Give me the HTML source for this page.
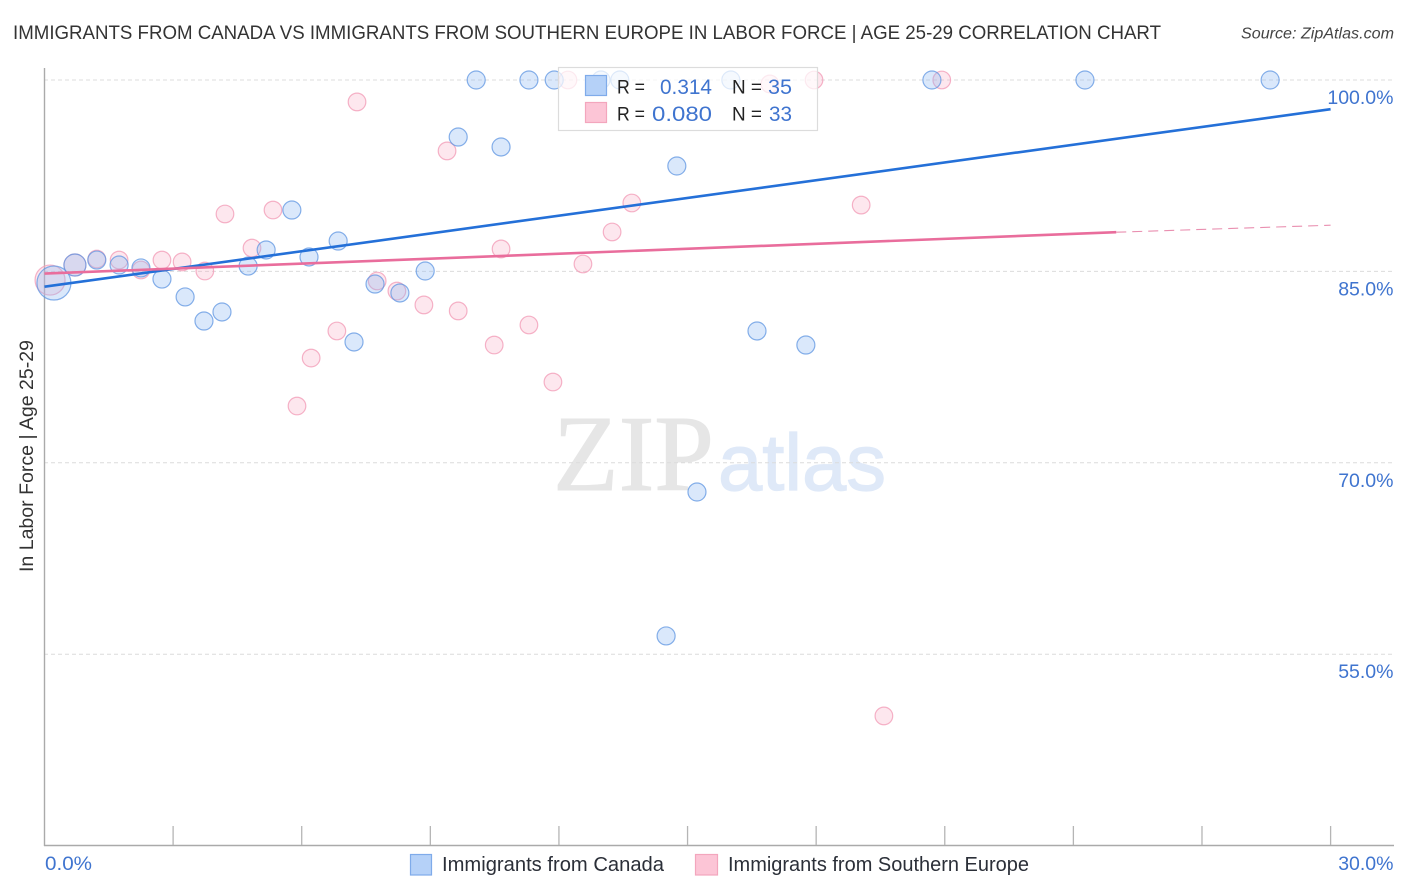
<!DOCTYPE html>
<html lang="en">
<head>
<meta charset="utf-8">
<title>Immigrants from Canada vs Immigrants from Southern Europe in Labor Force | Age 25-29</title>
<style>
html,body{margin:0;padding:0;background:#fff;}
svg{display:block;font-family:"Liberation Sans",sans-serif;}
</style>
</head>
<body>
<svg id="chart" width="1406" height="892" viewBox="0 0 1406 892" xmlns="http://www.w3.org/2000/svg">
  <rect x="0" y="0" width="1406" height="892" fill="#ffffff"/>
  <text x="13" y="39" font-size="19.5" fill="#333" textLength="1148" lengthAdjust="spacingAndGlyphs">IMMIGRANTS FROM CANADA VS IMMIGRANTS FROM SOUTHERN EUROPE IN LABOR FORCE | AGE 25-29 CORRELATION CHART</text>
  <text x="1241" y="38.5" font-size="15.5" font-style="italic" fill="#444" textLength="153" lengthAdjust="spacingAndGlyphs">Source: ZipAtlas.com</text>

  <g>
    <text x="553" y="490" font-family="'Liberation Serif',serif" font-size="108" fill="#e6e6e6" stroke="#e6e6e6" stroke-width="1" textLength="161" lengthAdjust="spacingAndGlyphs">ZIP</text>
    <text x="718" y="490" font-size="80" fill="#dfe9f8" stroke="#dfe9f8" stroke-width="1.2" textLength="168" lengthAdjust="spacingAndGlyphs">atlas</text>
  </g>

  <g id="grid"></g>
  <g id="axes"></g>
  <g id="points-pink"></g>
  <g id="points-blue"></g>
  <g id="trends"></g>
  <g id="tick-labels"></g>

  <text transform="translate(33,572) rotate(-90)" x="0" y="0" font-size="19" fill="#333" textLength="232" lengthAdjust="spacingAndGlyphs">In Labor Force | Age 25-29</text>

  <g>
    <rect x="558.5" y="67.5" width="259" height="63" fill="#ffffff" fill-opacity="0.72" stroke="#dcdcdc" stroke-width="1.2"/>
    <rect x="585.5" y="75.5" width="21" height="20" fill="#b5d1f8" stroke="#7fabea" stroke-width="1.2"/>
    <rect x="585.5" y="102.5" width="21" height="20" fill="#fcc5d6" stroke="#f3a6bd" stroke-width="1.2"/>
    <text x="617" y="93.5" font-size="19" fill="#222" textLength="28" lengthAdjust="spacingAndGlyphs">R =</text>
    <text x="660" y="94" font-size="21.5" fill="#3f74cf" textLength="52" lengthAdjust="spacingAndGlyphs">0.314</text>
    <text x="732" y="93.5" font-size="19" fill="#222" textLength="30" lengthAdjust="spacingAndGlyphs">N =</text>
    <text x="768" y="94" font-size="21.5" fill="#3f74cf" textLength="24" lengthAdjust="spacingAndGlyphs">35</text>
    <text x="617" y="120.5" font-size="19" fill="#222" textLength="28" lengthAdjust="spacingAndGlyphs">R =</text>
    <text x="652" y="121" font-size="21.5" fill="#3f74cf" textLength="60" lengthAdjust="spacingAndGlyphs">0.080</text>
    <text x="732" y="120.5" font-size="19" fill="#222" textLength="30" lengthAdjust="spacingAndGlyphs">N =</text>
    <text x="769" y="121" font-size="21.5" fill="#3f74cf" textLength="23" lengthAdjust="spacingAndGlyphs">33</text>
  </g>

  <g>
    <g>
      <rect x="410.5" y="854.5" width="21" height="20.5" fill="#b5d1f8" stroke="#7fabea" stroke-width="1.2"/>
      <text x="442" y="871" font-size="20" fill="#2b2f38" textLength="222" lengthAdjust="spacingAndGlyphs">Immigrants from Canada</text>
    </g>
    <g>
      <rect x="695.5" y="854.5" width="22" height="20.5" fill="#fcc5d6" stroke="#f3a6bd" stroke-width="1.2"/>
      <text x="728" y="871" font-size="20" fill="#2b2f38" textLength="301" lengthAdjust="spacingAndGlyphs">Immigrants from Southern Europe</text>
    </g>
  </g>
</svg>
<script>
const canadaX = [0.22,0.71,1.22,1.74,2.25,2.74,3.28,3.72,4.14,4.75,5.17,5.77,6.17,6.85,7.22,7.71,8.29,8.88,9.65,10.65,10.07,11.3,11.89,12.98,13.42,14.75,16.01,16.62,17.76,15.22,14.5,20.7,24.27,28.59];
const canadaY = [84.09,85.5,85.89,85.5,85.27,84.4,83.0,81.11,81.82,85.42,86.68,89.81,86.13,87.38,79.47,84.01,83.31,85.03,95.53,94.75,100,100,100,100,100,93.26,100,80.33,79.23,67.71,56.43,100,100,100];
const europeX = [0.13,0.71,1.22,1.74,2.25,2.74,3.21,3.74,4.21,4.84,5.33,5.89,6.22,6.82,7.29,7.76,8.22,8.85,9.39,9.65,10.49,10.65,11.3,11.86,12.21,12.56,13.24,13.7,16.92,17.95,19.05,19.58,20.93];
const europeY = [84.32,85.5,85.97,85.89,85.11,85.89,85.74,85.03,89.5,86.83,89.81,74.45,78.21,80.33,98.28,84.25,83.46,82.37,94.44,81.9,79.23,86.76,80.8,76.33,100,85.58,88.09,90.36,99.69,100,90.2,50.16,100];
const canadaTrendX = [0, 30];
const canadaTrendY = [83.8, 97.71];
const europeTrendX = [0, 25, 30];
const europeTrendY = [84.83, 88.07, 88.62];
const yTickValues = [100, 85, 70, 55];
const yTickLabels = ["100.0%", "85.0%", "70.0%", "55.0%"];
const xTickValues = [0, 3, 6, 9, 12, 15, 18, 21, 24, 27, 30];

const NS = 'http://www.w3.org/2000/svg';
const xScale = v => 44.5 + v * 42.87;
const yScale = v => 80 + (100 - v) * 12.76;
const bigRadius = { 0: 17, 1: 11 };
const bigRadiusEurope = { 0: 15, 1: 11 };

function make(tag, attrs, parent) {
  const el = document.createElementNS(NS, tag);
  for (const k in attrs) el.setAttribute(k, attrs[k]);
  parent.appendChild(el);
  return el;
}

const gridG = document.getElementById('grid');
const axesG = document.getElementById('axes');
const labelsG = document.getElementById('tick-labels');

yTickValues.forEach((v, i) => {
  const line = make('line', { x1: 44, x2: 1394, y1: yScale(v), y2: yScale(v), stroke: '#dcdcdc', 'stroke-width': 1, 'stroke-dasharray': '4 3' }, gridG);
  
  
  const t = make('text', { x: 1393.5, y: yScale(v) + 24, 'text-anchor': 'end', 'font-size': 19.5, fill: '#3f74cf' }, labelsG);
  t.textContent = yTickLabels[i];
  
  
});

const yAxis = make('line', { x1: 44.5, x2: 44.5, y1: 68, y2: 846, stroke: '#aaaaaa', 'stroke-width': 1.4 }, axesG);


const xAxis = make('line', { x1: 44, x2: 1394, y1: 845.5, y2: 845.5, stroke: '#aaaaaa', 'stroke-width': 1.4 }, axesG);



xTickValues.slice(1).forEach(v => {
  const tick = make('line', { x1: xScale(v), x2: xScale(v), y1: 826, y2: 845, stroke: '#b5b5b5', 'stroke-width': 1.3 }, axesG);
  
  
});

const xFirst = make('text', { x: 45, y: 870, 'font-size': 19.5, fill: '#3f74cf', textLength: 47, lengthAdjust: 'spacingAndGlyphs' }, labelsG);
xFirst.textContent = xTickValues[0].toFixed(1) + '%';


const xLast = make('text', { x: 1393.5, y: 870, 'text-anchor': 'end', 'font-size': 19.5, fill: '#3f74cf' }, labelsG);
xLast.textContent = xTickValues[xTickValues.length - 1].toFixed(1) + '%';



const pinkG = document.getElementById('points-pink');
europeX.forEach((v, i) => {
  const c = make('circle', { cx: xScale(v), cy: yScale(europeY[i]), r: bigRadiusEurope[i] || 8.8, fill: '#f9a8c1', 'fill-opacity': 0.27, stroke: '#f29fb9', 'stroke-opacity': 0.8, 'stroke-width': 1.2 }, pinkG);
  
  
});

const blueG = document.getElementById('points-blue');
canadaX.forEach((v, i) => {
  const c = make('circle', { cx: xScale(v), cy: yScale(canadaY[i]), r: bigRadius[i] || 9, fill: '#8fb8f2', 'fill-opacity': 0.33, stroke: '#5f95e2', 'stroke-opacity': 0.75, 'stroke-width': 1.2 }, blueG);
  
  
});

const trendG = document.getElementById('trends');
const blueTrend = make('line', { x1: xScale(canadaTrendX[0]), y1: yScale(canadaTrendY[0]), x2: xScale(canadaTrendX[1]), y2: yScale(canadaTrendY[1]), stroke: '#2470d8', 'stroke-width': 2.6 }, trendG);


const pinkTrend = make('line', { x1: xScale(europeTrendX[0]), y1: yScale(europeTrendY[0]), x2: xScale(europeTrendX[1]), y2: yScale(europeTrendY[1]), stroke: '#e96d9c', 'stroke-width': 2.6 }, trendG);


const pinkDash = make('line', { x1: xScale(europeTrendX[1]), y1: yScale(europeTrendY[1]), x2: xScale(europeTrendX[2]), y2: yScale(europeTrendY[2]), stroke: '#e98fb0', 'stroke-width': 1.1, 'stroke-dasharray': '10 6' }, trendG);


</script>
</body>
</html>
